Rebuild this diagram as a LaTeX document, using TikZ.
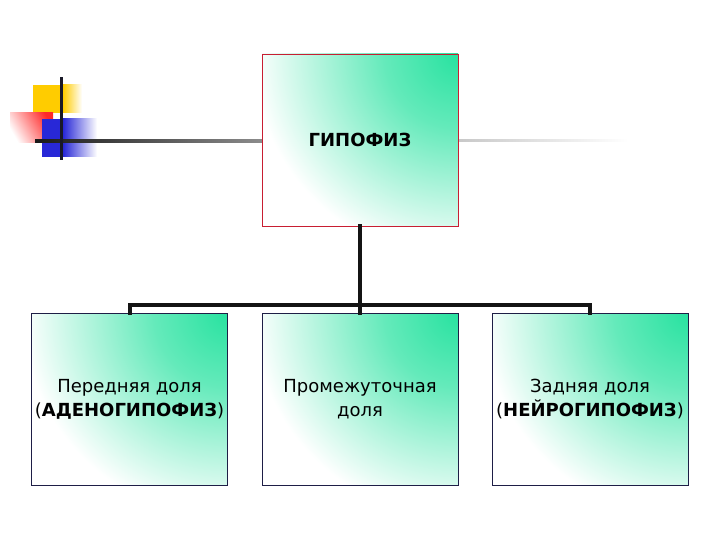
\documentclass[tikz,border=0pt]{standalone}
\usepackage{fontspec}
\setmainfont{DejaVu Sans}
\usetikzlibrary{calc}
\definecolor{grn}{RGB}{40,226,160}
\definecolor{redbrd}{RGB}{200,30,50}
\definecolor{navybrd}{RGB}{30,30,70}
\definecolor{dyellow}{RGB}{255,204,0}
\definecolor{dred}{RGB}{255,40,40}
\definecolor{dblue}{RGB}{40,40,215}
\definecolor{rulea}{RGB}{25,25,25}
\definecolor{ruleb}{RGB}{140,140,140}
\definecolor{rulec}{RGB}{200,200,200}
\definecolor{vrule}{RGB}{25,25,40}
\definecolor{connc}{RGB}{20,20,20}
\pgfdeclareradialshading{cornerglow}{\pgfpoint{0bp}{0bp}}{%
  color(0bp)=(grn); color(9bp)=(grn!72); color(25bp)=(white); color(50bp)=(white)}
\tikzset{
  box/.style={minimum width=196pt, minimum height=172pt, inner sep=0pt,
    path picture={\shade[shading=cornerglow]
      (path picture bounding box.north east) circle (205pt);},
    align=center, font=\fontsize{18}{24}\selectfont, line width=0.8pt},
  topbox/.style={box, draw=redbrd},
  subbox/.style={box, draw=navybrd},
  conn/.style={line width=4pt, draw=connc, line cap=rect}
}
\begin{document}
\begin{tikzpicture}[x=1pt,y=-1pt]
\useasboundingbox (0,0) rectangle (720,540);
% decorative squares
\fill[dyellow] (33,85) rectangle (63,113);
\shade[left color=dyellow, right color=white] (63,85) rectangle (82,113);
\shade[shading=axis, top color=dred, bottom color=white, shading angle=-60] (10,113) rectangle (53,143);
\fill[dblue] (42,119) rectangle (63,157);
\shade[left color=dblue, right color=white] (63,119) rectangle (97,157);
% horizontal rules
\shade[left color=rulea, right color=ruleb] (35,139.5) rectangle (262,142.5);
\shade[left color=rulec, right color=white] (458,140) rectangle (628,142);
% vertical rule
\fill[vrule] (59.5,77) rectangle (62.5,160);
% nodes
\node[topbox] (top) at (360,140) {\textbf{ГИПОФИЗ}};
\node[subbox] (ant) at (129.5,399) {Передняя доля\\(\textbf{АДЕНОГИПОФИЗ})};
\node[subbox] (mid) at (360,399) {Промежуточная\\доля};
\node[subbox] (post) at (590,399) {Задняя доля\\(\textbf{НЕЙРОГИПОФИЗ})};
% connectors
\coordinate (bar) at (360,305);
\draw[conn] (top.south) -- (top.south |- bar);
\draw[conn] (ant.north) -- (ant.north |- bar) -- (post.north |- bar) -- (post.north);
\draw[conn] (mid.north |- bar) -- (mid.north);
\end{tikzpicture}
\end{document}
